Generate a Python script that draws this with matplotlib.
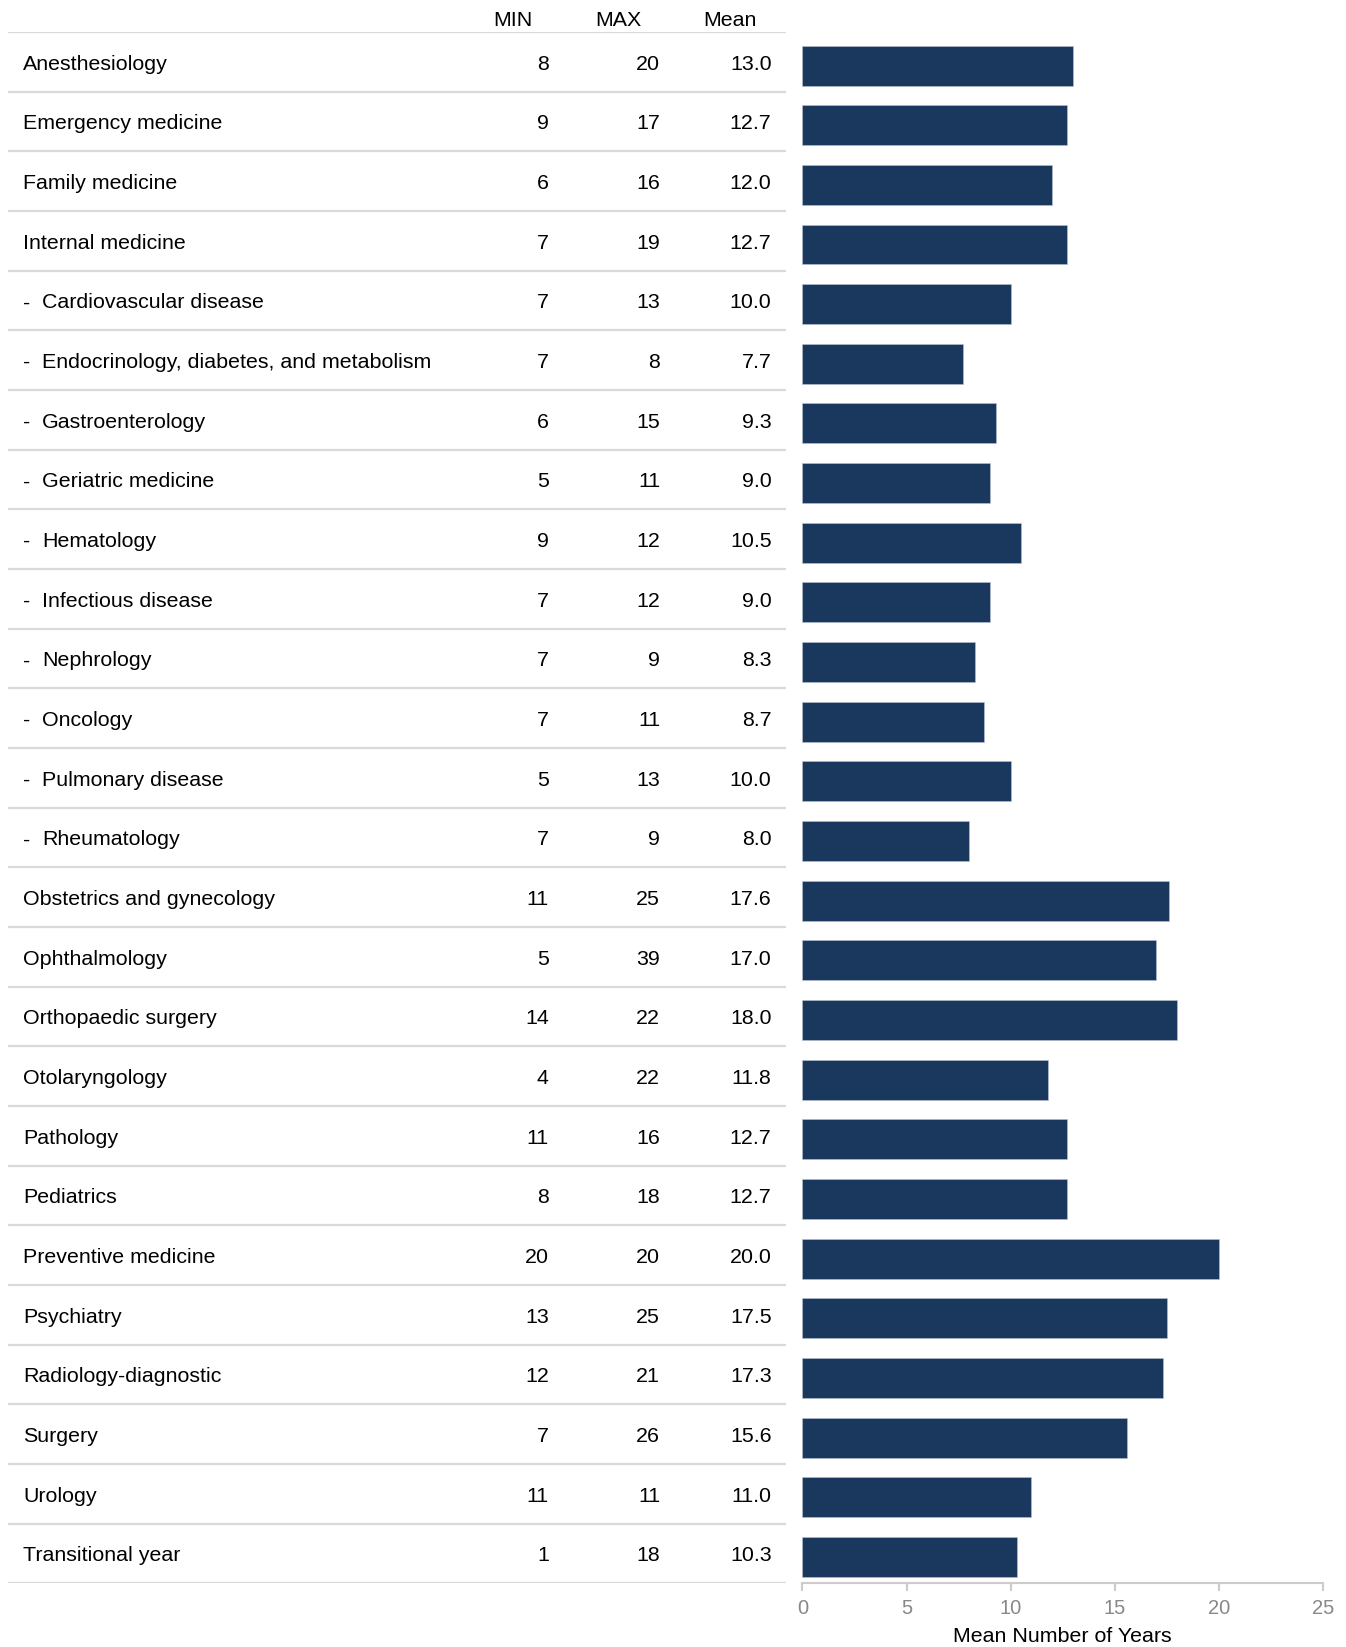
import matplotlib.pyplot as plt
import numpy as np

names = ['Anesthesiology', 'Emergency medicine', 'Family medicine', 'Internal medicine',
         'Cardiovascular disease', 'Endocrinology, diabetes, and metabolism',
         'Gastroenterology', 'Geriatric medicine', 'Hematology', 'Infectious disease',
         'Nephrology', 'Oncology', 'Pulmonary disease', 'Rheumatology',
         'Obstetrics and gynecology', 'Ophthalmology', 'Orthopaedic surgery',
         'Otolaryngology', 'Pathology', 'Pediatrics', 'Preventive medicine',
         'Psychiatry', 'Radiology-diagnostic', 'Surgery', 'Urology', 'Transitional year']
sub = [False] * 4 + [True] * 10 + [False] * 12
mins = [8, 9, 6, 7, 7, 7, 6, 5, 9, 7, 7, 7, 5, 7, 11, 5, 14, 4, 11, 8, 20, 13, 12, 7, 11, 1]
maxs = [20, 17, 16, 19, 13, 8, 15, 11, 12, 12, 9, 11, 13, 9, 25, 39, 22, 22, 16, 18, 20, 25, 21, 26, 11, 18]
means = [13.0, 12.7, 12.0, 12.7, 10.0, 7.7, 9.3, 9.0, 10.5, 9.0, 8.3, 8.7, 10.0, 8.0,
         17.6, 17.0, 18.0, 11.8, 12.7, 12.7, 20.0, 17.5, 17.3, 15.6, 11.0, 10.3]

plt.rcParams['font.family'] = ['Liberation Sans', 'DejaVu Sans']


def main():
    n = len(names)
    rows = np.arange(n)
    fig = plt.figure(figsize=(13.46, 16.47), dpi=100)

    # table part
    ax_t = fig.add_axes([0.00625, 0.0387, 0.578, 0.9418])
    ax_t.set_xlim(0, 1)
    ax_t.set_ylim(n - 0.5, -0.5)
    ax_t.axis('off')
    fs = 15.4
    dy = 0.04
    line_c = '#d9d9d9'
    for b in np.arange(-0.5, n, 1.0):
        ax_t.axhline(b, color=line_c, lw=1.6)
    for i in rows:
        y = i + dy
        if sub[i]:
            ax_t.text(0.0189, y, '-', fontsize=fs, va='center', ha='left')
            ax_t.text(0.0432, y, names[i], fontsize=fs, va='center', ha='left')
        else:
            ax_t.text(0.0189, y, names[i], fontsize=fs, va='center', ha='left')
        ax_t.text(0.6946, y, str(mins[i]), fontsize=fs, va='center', ha='right')
        ax_t.text(0.8378, y, str(maxs[i]), fontsize=fs, va='center', ha='right')
        ax_t.text(0.981, y, '%.1f' % means[i], fontsize=fs, va='center', ha='right')
    hy = -0.70
    ax_t.text(0.674, hy, 'MIN', fontsize=fs, va='center', ha='right')
    ax_t.text(0.8135, hy, 'MAX', fontsize=fs, va='center', ha='right')
    ax_t.text(0.962, hy, 'Mean', fontsize=fs, va='center', ha='right')

    # bar part
    ax_b = fig.add_axes([0.5962, 0.0387, 0.3866, 0.9418])
    ax_b.barh(rows + 0.06, means, height=0.67, color='#1a375e', edgecolor='#b8c4d4', linewidth=0.4)
    ax_b.set_ylim(n - 0.5, -0.5)
    ax_b.set_xlim(0, 25)
    ax_b.set_xticks([0, 5, 10, 15, 20, 25])
    ax_b.set_yticks([])
    for s in ['top', 'right', 'left']:
        ax_b.spines[s].set_visible(False)
    ax_b.spines['bottom'].set_color('#cccccc')
    ax_b.spines['bottom'].set_linewidth(1.5)
    ax_b.tick_params(axis='x', colors='#cccccc', length=6, width=1.5, labelsize=14.5,
                     labelcolor='#888888', pad=5)
    ax_b.set_xlabel('Mean Number of Years', fontsize=15.4, labelpad=7)

    plt.savefig('out.png')


if __name__ == "__main__":
    main()
